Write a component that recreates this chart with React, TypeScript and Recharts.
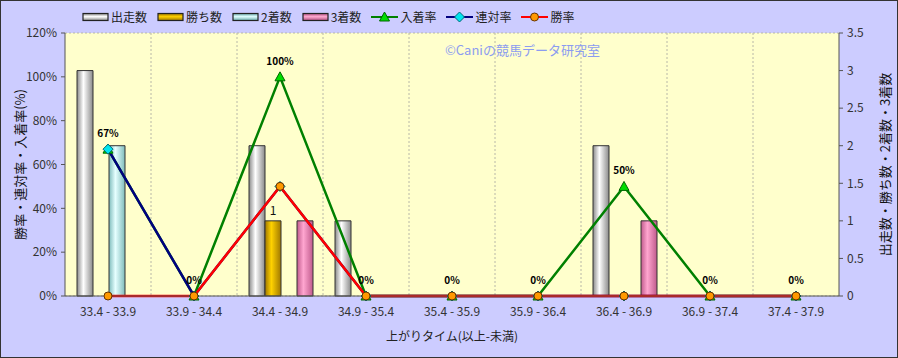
import React from "react";
import {
  ComposedChart,
  Bar,
  Line,
  XAxis,
  YAxis,
  CartesianGrid,
  Legend,
  LabelList,
} from "recharts";

const categories = [
  "33.4 - 33.9",
  "33.9 - 34.4",
  "34.4 - 34.9",
  "34.9 - 35.4",
  "35.4 - 35.9",
  "35.9 - 36.4",
  "36.4 - 36.9",
  "36.9 - 37.4",
  "37.4 - 37.9",
];
const runners = [3, 0, 2, 1, 0, 0, 2, 0, 0];
const wins = [0, 0, 1, 0, 0, 0, 0, 0, 0];
const seconds = [2, 0, 0, 0, 0, 0, 0, 0, 0];
const thirds = [0, 0, 1, 0, 0, 0, 1, 0, 0];
const placeRate = [67, 0, 100, 0, 0, 0, 50, 0, 0];
const rentaiRate = [67, 0, 50, 0, 0, 0, 0, 0, 0];
const winRate = [0, 0, 50, 0, 0, 0, 0, 0, 0];

const leftTicks = [0, 20, 40, 60, 80, 100, 120];
const rightTicks = [0, 0.5, 1, 1.5, 2, 2.5, 3, 3.5];

const data = categories.map((name, i) => ({
  name,
  runners: runners[i],
  wins: wins[i],
  seconds: seconds[i],
  thirds: thirds[i],
  placeRate: placeRate[i],
  rentaiRate: rentaiRate[i],
  winRate: winRate[i],
}));

const FONT = "'Noto Sans CJK JP', 'Noto Sans', sans-serif";

const Triangle = (props: any) => {
  const { cx, cy } = props;
  if (cx == null || cy == null) return null;
  return (
    <path
      d={`M${cx},${cy - 5} L${cx + 5},${cy + 4} L${cx - 5},${cy + 4} Z`}
      fill="#00dd00"
      stroke="#006600"
      strokeWidth={1}
    />
  );
};

const Diamond = (props: any) => {
  const { cx, cy } = props;
  if (cx == null || cy == null) return null;
  return (
    <path
      d={`M${cx},${cy - 5} L${cx + 5},${cy} L${cx},${cy + 5} L${cx - 5},${cy} Z`}
      fill="#00e5ee"
      stroke="#006677"
      strokeWidth={1}
    />
  );
};

const Circle = (props: any) => {
  const { cx, cy } = props;
  if (cx == null || cy == null) return null;
  return <circle cx={cx} cy={cy} r={4} fill="#ff9900" stroke="#663300" strokeWidth={1} />;
};

const legendItems = [
  { label: "出走数", kind: "bar", c1: "#888", c2: "#fff" },
  { label: "勝ち数", kind: "bar", c1: "#a07800", c2: "#ffd000" },
  { label: "2着数", kind: "bar", c1: "#6aaaaa", c2: "#e0ffff" },
  { label: "3着数", kind: "bar", c1: "#b05080", c2: "#ffaad0" },
  { label: "入着率", kind: "line", color: "#008000", marker: "tri" },
  { label: "連対率", kind: "line", color: "#000080", marker: "dia" },
  { label: "勝率", kind: "line", color: "#ff0000", marker: "circ" },
];

const LegendContent = () => (
  <div style={{ display: "flex", alignItems: "center", fontFamily: FONT, fontSize: 12, color: "#222" }}>
    {legendItems.map((it: any) => (
      <div key={it.label} style={{ display: "flex", alignItems: "center", marginRight: 10 }}>
        <svg width={27} height={10} style={{ marginRight: 2 }}>
          {it.kind === "bar" ? (
            <>
              <defs>
                <linearGradient id={`lg-${it.label}`} x1="0" y1="0" x2="0" y2="1">
                  <stop offset="0%" stopColor={it.c1} />
                  <stop offset="45%" stopColor={it.c2} />
                  <stop offset="100%" stopColor={it.c1} />
                </linearGradient>
              </defs>
              <rect x={1} y={1.5} width={25} height={7} fill={`url(#lg-${it.label})`} stroke="#222" strokeWidth={1.2} />
            </>
          ) : (
            <>
              <line x1={0} y1={5} x2={27} y2={5} stroke={it.color} strokeWidth={2} />
              {it.marker === "tri" && <Triangle cx={13.5} cy={5} />}
              {it.marker === "dia" && <Diamond cx={13.5} cy={5} />}
              {it.marker === "circ" && <Circle cx={13.5} cy={5} />}
            </>
          )}
        </svg>
        <span>{it.label}</span>
      </div>
    ))}
  </div>
);

const BarGrad = ({ id, edge, mid }: { id: string; edge: string; mid: string }) => (
  <linearGradient id={id} x1="0" y1="0" x2="1" y2="0">
    <stop offset="0%" stopColor={edge} />
    <stop offset="40%" stopColor={mid} />
    <stop offset="100%" stopColor={edge} />
  </linearGradient>
);

const VerticalTitle = ({ viewBox, value, dx }: any) => {
  if (!viewBox) return null;
  const x = viewBox.x + dx;
  const y = viewBox.y + viewBox.height / 2;
  return (
    <text
      x={x}
      y={y}
      transform={`rotate(-90 ${x} ${y})`}
      textAnchor="middle"
      dominantBaseline="central"
      fill="#111"
      fontSize={13}
      fontFamily={FONT}
    >
      {value}
    </text>
  );
};

export default function App() {
  return (
    <div style={{ position: "absolute", left: 0, top: 0, width: 898, height: 358, background: "#ccccff" }}>
      <ComposedChart
        width={898}
        height={358}
        data={data}
        margin={{ top: 33, right: 0, bottom: 0, left: 0 }}
        barCategoryGap={12}
        barGap={0}
        style={{ fontFamily: FONT }}
      >
        <defs>
          <BarGrad id="gRun" edge="#8a8a8a" mid="#ffffff" />
          <BarGrad id="gWin" edge="#a07800" mid="#ffd200" />
          <BarGrad id="gSec" edge="#7fbcbc" mid="#e6ffff" />
          <BarGrad id="gThi" edge="#c05a8c" mid="#ffa6d0" />
        </defs>
        <CartesianGrid
          fill="#ffffcc"
          stroke="#b8b8a8"
          strokeDasharray="2 2"
          verticalCoordinatesGenerator={({ offset }: any) =>
            categories.map((_, i) => offset.left + (i * offset.width) / categories.length).slice(1)
          }
        />
        <XAxis
          dataKey="name"
          height={62}
          tick={{ fill: "#333", fontSize: 12 }}
          tickLine={false}
          axisLine={{ stroke: "#555" }}
          tickMargin={5}
          label={{ value: "上がりタイム(以上-未満)", position: "insideBottom", offset: 17, fill: "#222", fontSize: 12 }}
        />
        <YAxis
          yAxisId="left"
          width={65}
          domain={[0, 120]}
          ticks={leftTicks}
          tickFormatter={(v: number) => `${v}%`}
          tick={{ fill: "#333", fontSize: 12 }}
          axisLine={{ stroke: "#555" }}
          tickLine={{ stroke: "#555" }}
          tickSize={4}
          tickMargin={4}
          label={<VerticalTitle value="勝率・連対率・入着率(%)" dx={19} />}
        />
        <YAxis
          yAxisId="right"
          orientation="right"
          width={59}
          domain={[0, 3.5]}
          ticks={rightTicks}
          tick={{ fill: "#333", fontSize: 12 }}
          axisLine={{ stroke: "#555" }}
          tickLine={{ stroke: "#555" }}
          tickSize={4}
          tickMargin={4}
          label={<VerticalTitle value="出走数・勝ち数・2着数・3着数" dx={45} />}
        />
        <Legend
          layout="horizontal"
          verticalAlign="middle"
          align="center"
          content={<LegendContent />}
          wrapperStyle={{ top: 8, left: 82, width: 600, height: 20 }}
        />
        <Bar yAxisId="right" dataKey="runners" name="出走数" fill="url(#gRun)" stroke="#333" strokeWidth={1} isAnimationActive={false} />
        <Bar yAxisId="right" dataKey="wins" name="勝ち数" fill="url(#gWin)" stroke="#333" strokeWidth={1} isAnimationActive={false}>
          <LabelList dataKey="wins" position="top" offset={6} fill="#111" fontSize={12} formatter={(v: any) => (v ? v : "")} />
        </Bar>
        <Bar yAxisId="right" dataKey="seconds" name="2着数" fill="url(#gSec)" stroke="#333" strokeWidth={1} isAnimationActive={false} />
        <Bar yAxisId="right" dataKey="thirds" name="3着数" fill="url(#gThi)" stroke="#333" strokeWidth={1} isAnimationActive={false} />
        <Line
          yAxisId="left"
          dataKey="placeRate"
          name="入着率"
          stroke="#008000"
          strokeWidth={2.5}
          dot={<Triangle />}
          activeDot={false}
          isAnimationActive={false}
        >
          <LabelList
            dataKey="placeRate"
            position="top"
            offset={12}
            fill="#000"
            fontSize={10}
            fontWeight="bold"
            formatter={(v: any) => `${v}%`}
          />
        </Line>
        <Line
          yAxisId="left"
          dataKey="rentaiRate"
          name="連対率"
          stroke="#000080"
          strokeWidth={2.5}
          dot={<Diamond />}
          activeDot={false}
          isAnimationActive={false}
        />
        <Line
          yAxisId="left"
          dataKey="winRate"
          name="勝率"
          stroke="#ff0000"
          strokeWidth={2.5}
          dot={<Circle />}
          activeDot={false}
          isAnimationActive={false}
        />
      </ComposedChart>
      <div
        style={{
          position: "absolute",
          left: 445,
          top: 40,
          fontFamily: FONT,
          fontSize: 13,
          color: "#8c9cf0",
          pointerEvents: "none",
        }}
      >
        ©Caniの競馬データ研究室
      </div>
      <div
        style={{
          position: "absolute",
          left: 0,
          top: 0,
          width: 898,
          height: 358,
          boxSizing: "border-box",
          border: "1px solid #333",
          pointerEvents: "none",
        }}
      />
    </div>
  );
}
